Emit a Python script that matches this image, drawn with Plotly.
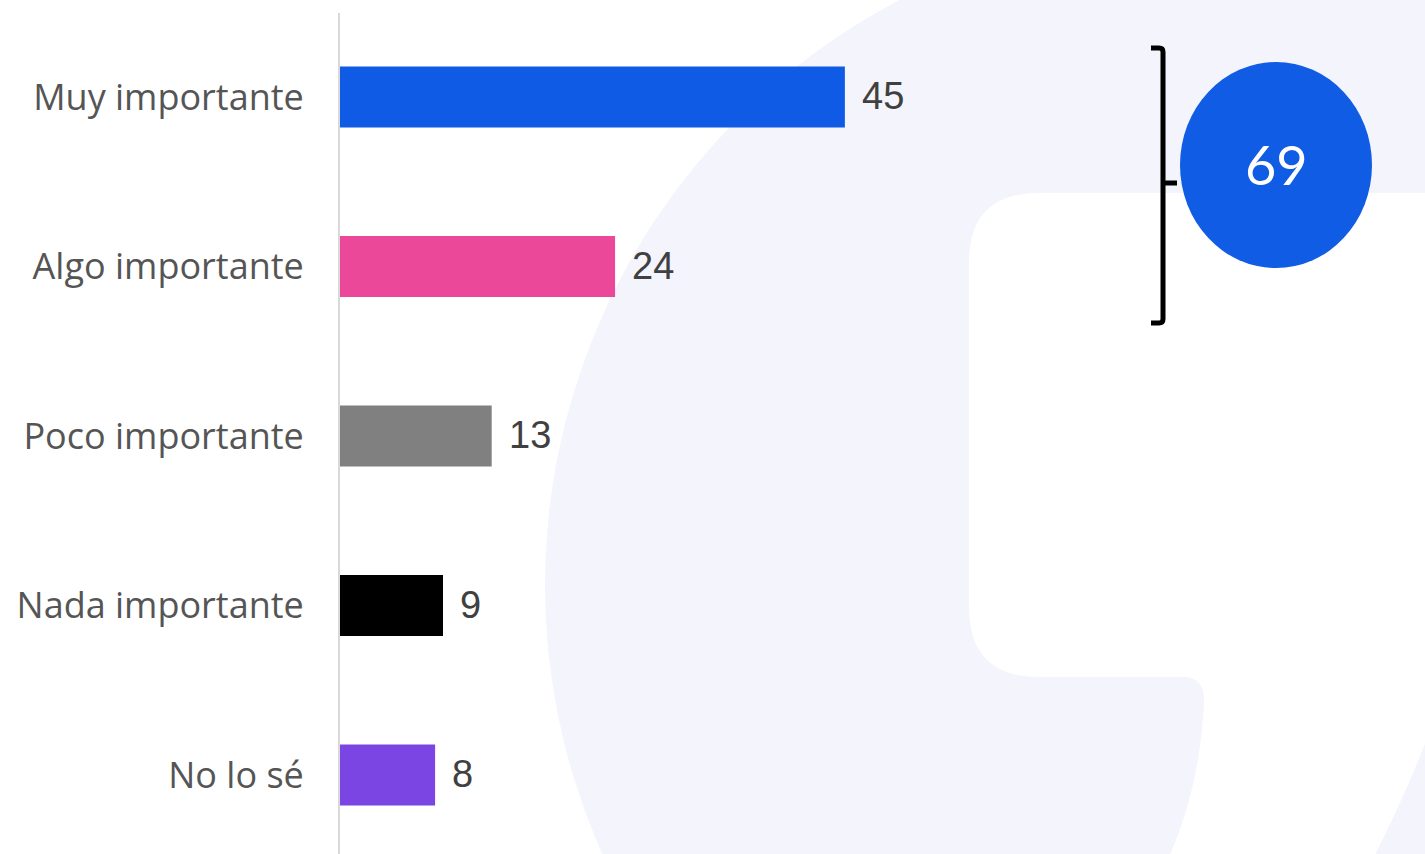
import plotly.graph_objects as go

categories = ["Muy importante", "Algo importante", "Poco importante", "Nada importante", "No lo sé"]
values = [44.6, 24.3, 13.4, 9.1, 8.4]
colors = ["#0F5BE6", "#EC4899", "#808080", "#000000", "#7A45E3"]

W, H = 1425, 854
ML, MR, MT, MB = 340, 0, 13, 0
PW, PH = W - ML - MR, H - MT - MB


def px(x):
    return (x - ML) / PW


def py(y):
    return (H - MB - y) / PH


def path(cmds):
    out = []
    for c in cmds:
        if isinstance(c, str):
            out.append(c)
        else:
            out.append(f"{px(c[0]):.5f},{py(c[1]):.5f}")
    return " ".join(out)


fig = go.Figure()
fig.add_trace(go.Bar(
    y=categories, x=values, orientation="h",
    marker=dict(color=colors, line=dict(width=0)),
    width=0.36, hoverinfo="skip",
))

for c, v in zip(categories, values):
    fig.add_annotation(x=v, y=c, xref="x", yref="y", text=f"{round(v)}",
                       showarrow=False, xanchor="left", yanchor="middle", xshift=15, yshift=1,
                       font=dict(family="Liberation Sans, Arial", size=38, color="#404040"))

shapes = []
lav = "#F3F4FC"
# background watermark: big circle
shapes.append(dict(type="circle", xref="paper", yref="paper", layer="below",
                   x0=px(545), x1=px(1865), y0=py(1245), y1=py(-75),
                   fillcolor=lav, line=dict(width=0)))
# white rounded rectangle
r = 70
x0, x1, y0, y1 = 969, 1800, 193, 677
shapes.append(dict(type="path", xref="paper", yref="paper", layer="below",
                   path=path(["M", (x0 + r, y0), "L", (x1, y0), "L", (x1, y1), "L", (x0 + r, y1),
                              "Q", (x0, y1), (x0, y1 - r), "L", (x0, y0 + r), "Q", (x0, y0), (x0 + r, y0), "Z"]),
                   fillcolor="#FFFFFF", line=dict(width=0)))
# white tail
shapes.append(dict(type="path", xref="paper", yref="paper", layer="below",
                   path=path(["M", (1180, 670), "L", (1183, 677), "Q", (1204, 677), (1204, 700),
                              "Q", (1200, 800), (1158, 880), "L", (1362, 880),
                              "Q", (1410, 790), (1445, 690), "L", (1445, 660), "Z"]),
                   fillcolor="#FFFFFF", line=dict(width=0)))
# bracket
shapes.append(dict(type="path", xref="paper", yref="paper",
                   path=path(["M", (1151, 48), "L", (1159, 48), "Q", (1163, 48), (1163, 52),
                              "L", (1163, 319), "Q", (1163, 323), (1159, 323), "L", (1151, 323),
                              "M", (1163, 183), "L", (1177, 183)]),
                   line=dict(color="#000000", width=5)))
# ellipse
shapes.append(dict(type="circle", xref="paper", yref="paper",
                   x0=px(1180), x1=px(1372), y0=py(268), y1=py(62),
                   fillcolor="#105CE5", line=dict(width=0)))

top2 = round(values[0] + values[1])
fig.add_annotation(x=px(1276), y=py(165), xref="paper", yref="paper", text=str(top2),
                   showarrow=False, xanchor="center", yanchor="middle",
                   font=dict(family="Lato", size=54, color="#FFFFFF"))

fig.update_layout(
    width=W, height=H,
    margin=dict(l=ML, r=MR, t=MT, b=MB, pad=0),
    paper_bgcolor="#FFFFFF", plot_bgcolor="rgba(0,0,0,0)",
    showlegend=False, shapes=shapes,
    xaxis=dict(range=[0, PW / 11.32], visible=False, showgrid=False, zeroline=False, fixedrange=True),
    yaxis=dict(type="category", categoryorder="array", categoryarray=categories,
               range=[4.466, -0.496], showgrid=False, zeroline=False,
               showline=True, linecolor="#D9D9D9", linewidth=2,
               ticks="", ticklabelstandoff=27, automargin=False,
               tickfont=dict(family="Open Sans", size=36, color="#555555")),
)

fig.write_html("out.html", config={"displayModeBar": False},
               post_script="document.body.style.margin='0';document.body.style.overflow='hidden';")
